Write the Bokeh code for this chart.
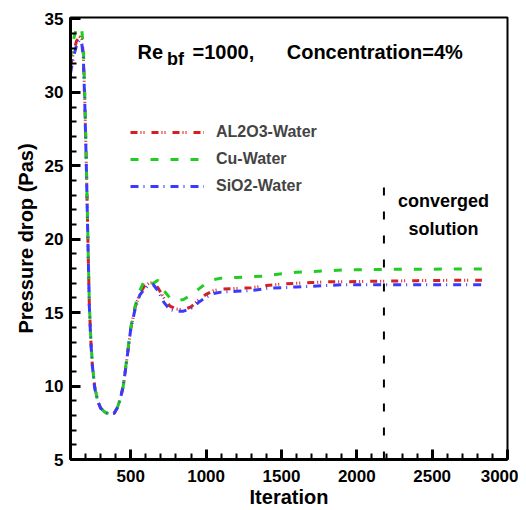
from bokeh.plotting import figure
from bokeh.models import (Range1d, SingleIntervalTicker, Legend, LegendItem, Label)
from bokeh.embed import file_html
from bokeh.resources import INLINE

iterations = [100, 120, 140, 160, 175, 185, 195, 205, 215, 225, 235, 245, 260, 280, 300, 330, 360, 390, 410, 430,
              450, 470, 500, 530, 560, 590, 620, 650, 680, 720, 760, 800, 850, 900, 950, 1000, 1050, 1100, 1200, 1300,
              1400, 1500, 1600, 1700, 1800, 1900, 2000, 2200, 2400, 2600, 2830]
al2o3_water = [31.8, 32.7, 33.5, 33.8, 33.6, 32.6, 29.4, 25.1, 20.2, 15.5, 13.1, 11.4, 10.0, 9.0, 8.5, 8.2, 8.1, 8.15, 8.5, 9.1,
               10.0, 11.5, 13.9, 15.4, 16.3, 16.8, 17.0, 17.05, 16.7, 16.0, 15.45, 15.25, 15.2, 15.4, 15.85, 16.25, 16.5, 16.6, 16.65, 16.7,
               16.85, 16.95, 17.0, 17.05, 17.1, 17.1, 17.12, 17.15, 17.18, 17.2, 17.2]
cu_water = [32.3, 33.6, 34.4, 34.1, 34.2, 33.2, 29.8, 25.3, 20.3, 15.6, 13.2, 11.5, 10.0, 9.0, 8.5, 8.2, 8.1, 8.15, 8.5, 9.1,
            10.0, 11.6, 14.0, 15.5, 16.5, 17.2, 16.9, 17.0, 17.2, 16.5, 16.0, 15.8, 15.9, 16.2, 16.6, 17.0, 17.25, 17.35, 17.4, 17.45,
            17.5, 17.65, 17.75, 17.8, 17.85, 17.9, 17.92, 17.95, 17.95, 17.97, 17.97]
sio2_water = [31.3, 32.4, 33.2, 33.6, 33.3, 32.4, 29.2, 25.0, 20.1, 15.4, 13.0, 11.4, 9.9, 9.0, 8.5, 8.2, 8.1, 8.15, 8.5, 9.1,
              10.0, 11.5, 13.9, 15.3, 16.2, 16.6, 16.9, 16.9, 16.5, 15.7, 15.2, 15.1, 15.1, 15.3, 15.7, 16.05, 16.3, 16.4, 16.45, 16.5,
              16.65, 16.7, 16.75, 16.8, 16.85, 16.9, 16.9, 16.9, 16.9, 16.9, 16.9]
series_names = ["AL2O3-Water", "Cu-Water", "SiO2-Water"]
converged_iter = [2180, 2180]
converged_p = [5, 24.6]

FONT = "Liberation Sans"

p = figure(width=518, height=510, output_backend="svg", toolbar_location=None,
           x_range=Range1d(100, 3000), y_range=Range1d(5, 35.1),
           min_border_left=70, min_border_right=11, min_border_top=17, min_border_bottom=51)
p.xgrid.visible = False
p.ygrid.visible = False
p.outline_line_color = "black"
p.outline_line_width = 2
p.background_fill_color = "white"
p.border_fill_color = "white"

p.xaxis.ticker = SingleIntervalTicker(interval=500, num_minor_ticks=5)
p.yaxis.ticker = SingleIntervalTicker(interval=5, num_minor_ticks=5)
for ax in (p.xaxis[0], p.yaxis[0]):
    ax.axis_line_width = 3
    ax.axis_line_color = "black"
    ax.major_tick_in = 10
    ax.major_tick_out = 0
    ax.minor_tick_in = 6
    ax.minor_tick_out = 0
    ax.major_tick_line_width = 3
    ax.minor_tick_line_width = 2
    ax.major_label_text_font = FONT
    ax.major_label_text_font_style = "bold"
    ax.major_label_text_font_size = "17px"
    ax.major_label_text_color = "black"
    ax.axis_label_text_font = FONT
    ax.axis_label_text_font_style = "bold"
    ax.axis_label_text_font_size = "20px"
    ax.axis_label_text_color = "black"
p.xaxis.axis_label = "Iteration"
p.yaxis.axis_label = "Pressure drop (Pas)"
p.xaxis.major_label_standoff = 10
p.xaxis.axis_label_standoff = 1
p.yaxis.major_label_standoff = 7
p.yaxis.axis_label_standoff = 5

r1 = p.line(iterations, al2o3_water, line_color="#d42020", line_width=3, line_dash="7 3 1 2 1 7")
r2 = p.line(iterations, cu_water, line_color="#22cc22", line_width=3, line_dash="8 12")
r3 = p.line(iterations, sio2_water, line_color="#3a3aff", line_width=3, line_dash="8 5 1 6")

p.line(converged_iter, converged_p, line_color="black", line_width=2, line_dash="8 16")

legend = Legend(items=[LegendItem(label=series_names[0], renderers=[r1]),
                       LegendItem(label=series_names[1], renderers=[r2]),
                       LegendItem(label=series_names[2], renderers=[r3])],
                location=(60, 263), glyph_width=74, glyph_height=20, label_height=20,
                spacing=7, padding=0, margin=0, label_standoff=12,
                label_text_font=FONT, label_text_font_style="bold", label_text_font_size="16px",
                border_line_alpha=0, background_fill_alpha=0)
p.add_layout(legend, "center")

def lab(x, y, t, size="20px", align="left"):
    p.add_layout(Label(x=x, y=y, text=t, text_font=FONT, text_font_style="bold",
                       text_font_size=size, text_baseline="alphabetic", text_align=align,
                       text_color="black"))

lab(545, 32.72, "Re")
lab(740, 32.25, "bf", size="18px")
lab(910, 32.72, "=1000,")
lab(1535, 32.72, "Concentration=4%")
lab(2575, 22.57, "converged", size="18px", align="center")
lab(2575, 20.67, "solution", size="18px", align="center")

open("out.html", "w").write(file_html(p, INLINE))
